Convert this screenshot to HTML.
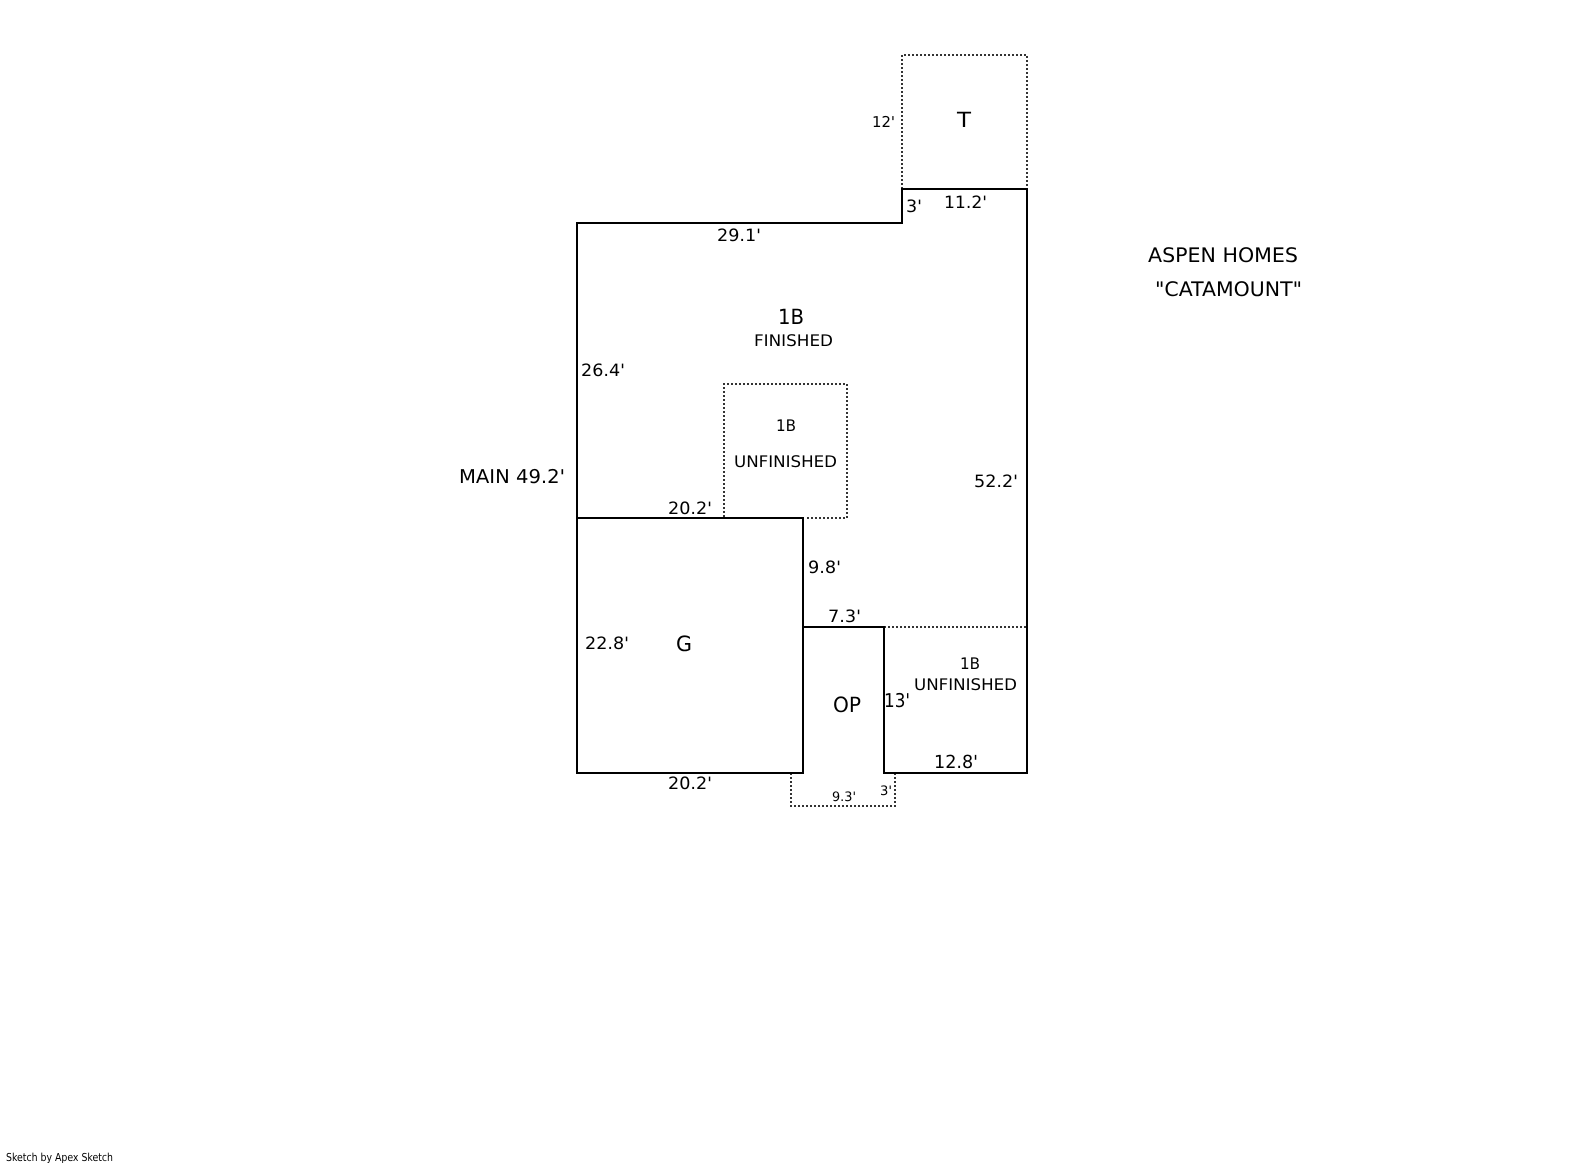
<!DOCTYPE html>
<html>
<head>
<meta charset="utf-8">
<style>
html,body{margin:0;padding:0;background:#fff;width:1585px;height:1163px;overflow:hidden}
svg{display:block}
text{font-family:"DejaVu Sans","Liberation Sans",sans-serif;fill:#000}
.s{fill:none;stroke:#000;stroke-width:2}
.d{fill:none;stroke:#333;stroke-width:2;stroke-dasharray:2 2}
</style>
</head>
<body>
<svg width="1585" height="1163" viewBox="0 0 1585 1163" xmlns="http://www.w3.org/2000/svg" shape-rendering="crispEdges">
<rect width="1585" height="1163" fill="#fff"/>
<path class="d" d="M902 189V55H1027V189"/>
<path class="d" d="M724 517V384H847V518H805"/>
<path class="d" d="M884 627H1027"/>
<path class="d" d="M791 773V806H895V773"/>
<path class="s" d="M577 518V223H902V189H1027V773H884V627H803V518"/>
<rect class="s" x="577" y="518" width="226" height="255"/>
<path class="s" d="M803 627V773"/>
<g text-rendering="geometricPrecision">
<text x="957" y="127" font-size="21" textLength="14" lengthAdjust="spacingAndGlyphs">T</text>
<text x="872" y="127" font-size="15" textLength="23" lengthAdjust="spacingAndGlyphs">12'</text>
<text x="906" y="212" font-size="17" textLength="16" lengthAdjust="spacingAndGlyphs">3'</text>
<text x="944" y="208" font-size="17" textLength="43" lengthAdjust="spacingAndGlyphs">11.2'</text>
<text x="717" y="241" font-size="17" textLength="44" lengthAdjust="spacingAndGlyphs">29.1'</text>
<text x="778" y="324" font-size="21" textLength="26" lengthAdjust="spacingAndGlyphs">1B</text>
<text x="754" y="346" font-size="16" textLength="79" lengthAdjust="spacingAndGlyphs">FINISHED</text>
<text x="581" y="376" font-size="17" textLength="44" lengthAdjust="spacingAndGlyphs">26.4'</text>
<text x="776" y="431" font-size="16" textLength="20" lengthAdjust="spacingAndGlyphs">1B</text>
<text x="734" y="467" font-size="16" textLength="103" lengthAdjust="spacingAndGlyphs">UNFINISHED</text>
<text x="459" y="483" font-size="19" textLength="106" lengthAdjust="spacingAndGlyphs">MAIN 49.2'</text>
<text x="668" y="514" font-size="17" textLength="44" lengthAdjust="spacingAndGlyphs">20.2'</text>
<text x="974" y="487" font-size="17" textLength="44" lengthAdjust="spacingAndGlyphs">52.2'</text>
<text x="808" y="573" font-size="17" textLength="33" lengthAdjust="spacingAndGlyphs">9.8'</text>
<text x="828" y="622" font-size="17" textLength="33" lengthAdjust="spacingAndGlyphs">7.3'</text>
<text x="585" y="649" font-size="17" textLength="44" lengthAdjust="spacingAndGlyphs">22.8'</text>
<text x="676" y="651" font-size="21" textLength="16" lengthAdjust="spacingAndGlyphs">G</text>
<text x="833" y="712" font-size="21" textLength="28" lengthAdjust="spacingAndGlyphs">OP</text>
<text x="884" y="707" font-size="19" textLength="26" lengthAdjust="spacingAndGlyphs">13'</text>
<text x="960" y="669" font-size="16" textLength="20" lengthAdjust="spacingAndGlyphs">1B</text>
<text x="914" y="690" font-size="16" textLength="103" lengthAdjust="spacingAndGlyphs">UNFINISHED</text>
<text x="934" y="768" font-size="18" textLength="44" lengthAdjust="spacingAndGlyphs">12.8'</text>
<text x="832" y="801" font-size="13" textLength="24" lengthAdjust="spacingAndGlyphs">9.3'</text>
<text x="880" y="795" font-size="13" textLength="12" lengthAdjust="spacingAndGlyphs">3'</text>
<text x="668" y="789" font-size="17" textLength="44" lengthAdjust="spacingAndGlyphs">20.2'</text>
<text x="1148" y="262" font-size="20" textLength="150" lengthAdjust="spacingAndGlyphs">ASPEN HOMES</text>
<text x="1155" y="296" font-size="20" textLength="147" lengthAdjust="spacingAndGlyphs">"CATAMOUNT"</text>
<text x="6" y="1161" font-size="11" textLength="107" lengthAdjust="spacingAndGlyphs">Sketch by Apex Sketch</text>
</g>
</svg>
</body>
</html>
